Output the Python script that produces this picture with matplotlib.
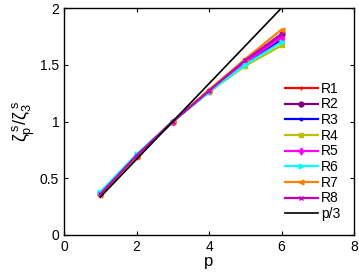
import matplotlib
matplotlib.use("Agg")
import matplotlib.pyplot as plt
import numpy as np

plt.rcParams['font.family'] = ['Liberation Sans', 'DejaVu Sans']
plt.rcParams['mathtext.fontset'] = 'custom'
plt.rcParams['mathtext.rm'] = 'Liberation Sans'
plt.rcParams['mathtext.it'] = 'Liberation Sans'

p = [1, 2, 3, 4, 5, 6]
names = ["R1", "R2", "R3", "R4", "R5", "R6", "R7", "R8"]
ratios = {
    "R1": [0.36, 0.70, 1.0, 1.27, 1.53, 1.76],
    "R2": [0.36, 0.70, 1.0, 1.27, 1.53, 1.77],
    "R3": [0.37, 0.70, 1.0, 1.26, 1.51, 1.72],
    "R4": [0.37, 0.70, 1.0, 1.26, 1.49, 1.67],
    "R5": [0.36, 0.70, 1.0, 1.27, 1.52, 1.74],
    "R6": [0.38, 0.71, 1.0, 1.26, 1.50, 1.70],
    "R7": [0.35, 0.69, 1.0, 1.28, 1.55, 1.81],
    "R8": [0.36, 0.70, 1.0, 1.27, 1.54, 1.77],
}
colors = ["#ff0000", "#800080", "#0000ff", "#bfbf00", "#ff00ff", "#00ffff", "#ff8000", "#bf00bf"]
markers = ["+", "o", ".", "s", "d", ">", "<", "x"]

fig = plt.figure(figsize=(3.59, 2.79), dpi=100)
ax = fig.add_axes([64 / 359, 44 / 279, 290 / 359, 227 / 279])

for name, c, m in zip(names, colors, markers):
    ax.plot(p, ratios[name], color=c, marker=m, markersize=3.5, linewidth=1.6, label=name)

pl = np.array([1, 6])
ax.plot(pl, pl / 3, color="black", linewidth=1.2, label="p/3")

ax.set_xlim(0, 8)
ax.set_ylim(0, 2)
ax.set_xticks([0, 2, 4, 6, 8])
ax.set_yticks([0, 0.5, 1, 1.5, 2])
ax.set_yticklabels(["0", "0.5", "1", "1.5", "2"])
ax.tick_params(direction="in", top=True, right=True, labelsize=10, length=3)
for s in ax.spines.values():
    s.set_linewidth(1.0)
ax.set_xlabel("p", fontsize=12, labelpad=0)
ax.set_ylabel(r"$\zeta^{\,s}_{\mathrm{p}}/\zeta^{\,s}_{3}$", fontsize=13, labelpad=2)

ax.legend(loc="lower right", frameon=False, fontsize=10, handlelength=2.4,
          handletextpad=0.2, labelspacing=0.12, borderaxespad=0.6)

fig.savefig("out.png", dpi=100)
